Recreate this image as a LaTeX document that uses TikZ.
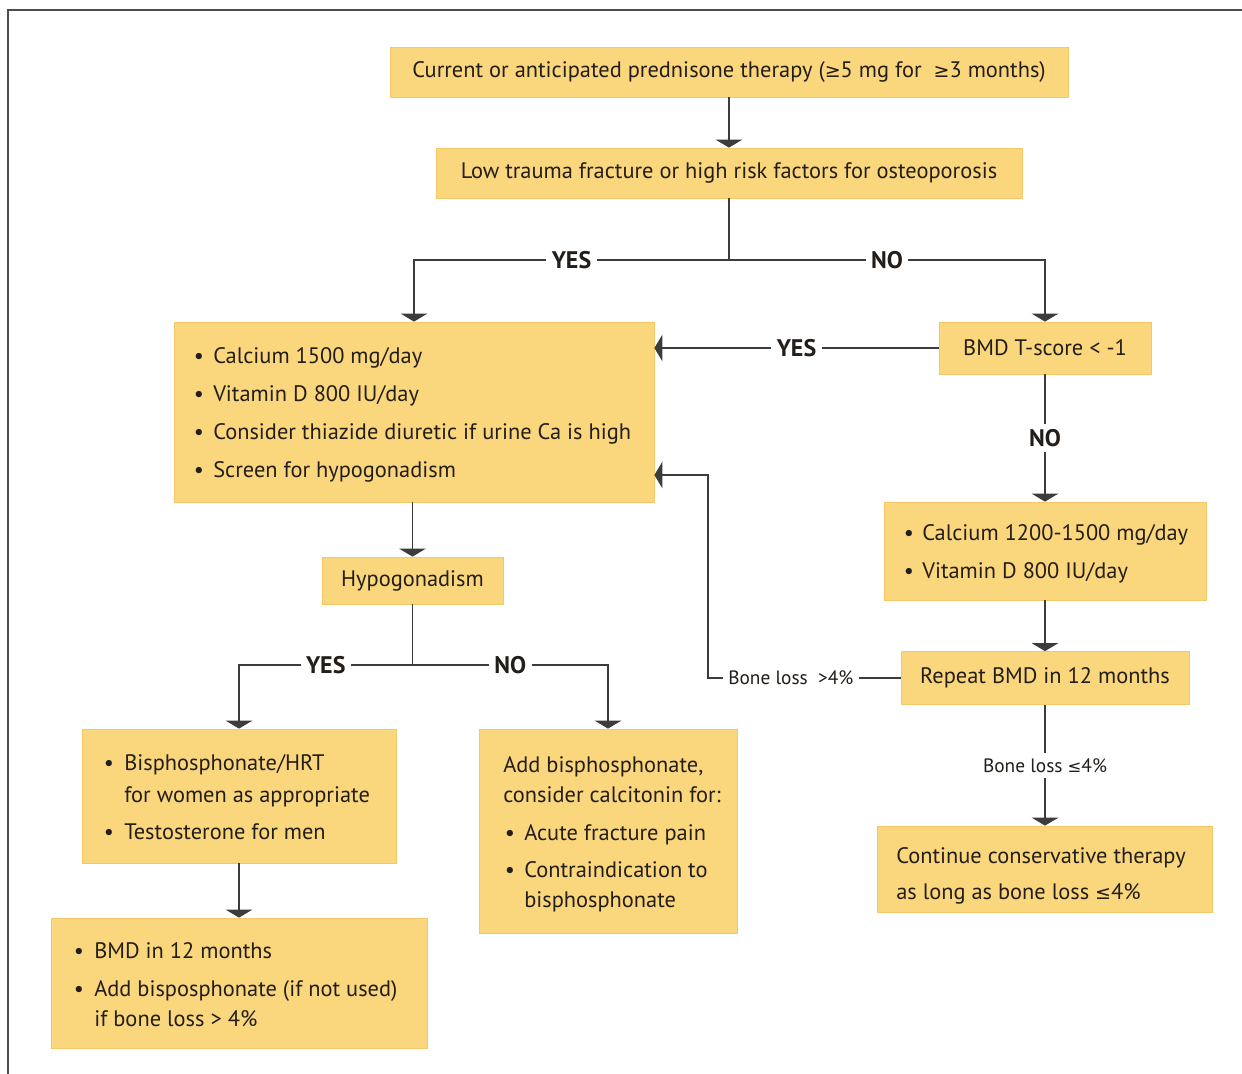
\documentclass[tikz,border=0pt]{standalone}
\usepackage{fontspec}
\setmainfont{PT Sans}
\newfontfamily\symf[Scale=0.85]{DejaVu Sans}
\newcommand{\mygeq}{{\symf ≥}}
\newcommand{\myleq}{{\symf ≤}}
\usetikzlibrary{arrows.meta}
\definecolor{boxfill}{RGB}{250,214,124}
\definecolor{boxedge}{RGB}{244,200,105}
\definecolor{linec}{RGB}{60,60,60}
\definecolor{textc}{RGB}{35,30,25}
\tikzset{
  box/.style={fill=boxfill, draw=boxedge, line width=0.6pt, inner sep=0pt, text=textc, font=\fontsize{16.8}{20}\selectfont},
  txt/.style={anchor=base west, yshift=-6pt, inner sep=0pt, text=textc, font=\fontsize{16.8}{20}\selectfont},
  bul/.style={anchor=base, yshift=-6pt, inner sep=0pt, text=textc, font=\fontsize{16.8}{20}\selectfont},
  conn/.style={draw=linec, line width=0.8pt},
  arr/.style={conn, -{Triangle[width=20pt,length=6pt]}},
  yn/.style={fill=white, inner sep=4pt, font=\bfseries\fontsize{18}{21}\selectfont, text=textc},
  lbl/.style={fill=white, inner sep=4pt, font=\fontsize{14.5}{17}\selectfont, text=textc}
}
\begin{document}
\begin{tikzpicture}[x=0.75pt,y=-0.75pt]
\useasboundingbox (0,0) rectangle (1242,1074);
% frame
\coordinate (fr1) at (1242,10);
\coordinate (fr2) at (8,10);
\coordinate (fr3) at (8,1074);
\draw[draw=black!70, line width=1.2pt] (fr1) -- (fr2) -- (fr3);

% boxes
\node[box, minimum width=678*0.75pt, minimum height=50*0.75pt] (b1) at (729,72) {Current or anticipated prednisone therapy (\mygeq5 mg for \ \mygeq3 months)};
\node[box, minimum width=586*0.75pt, minimum height=50*0.75pt] (b2) at (729,173) {Low trauma fracture or high risk factors for osteoporosis};
\node[box, minimum width=480*0.75pt, minimum height=180*0.75pt] (b3) at (414,412) {};
\node[box, minimum width=212*0.75pt, minimum height=52*0.75pt] (b4) at (1045,348) {BMD T-score < -1};
\node[box, minimum width=322*0.75pt, minimum height=98*0.75pt] (b5) at (1045,551) {};
\node[box, minimum width=288*0.75pt, minimum height=53*0.75pt] (b6) at (1045,678) {Repeat BMD in 12 months};
\node[box, minimum width=335*0.75pt, minimum height=86*0.75pt] (b7) at (1045,869) {};
\node[box, minimum width=181*0.75pt, minimum height=47*0.75pt] (b8) at (412.5,580.5) {Hypogonadism};
\node[box, minimum width=314*0.75pt, minimum height=134*0.75pt] (b9) at (239,796) {};
\node[box, minimum width=258*0.75pt, minimum height=204*0.75pt] (b10) at (608,831) {};
\node[box, minimum width=376*0.75pt, minimum height=130*0.75pt] (b11) at (239,983) {};

% box 3 text
\node[bul] (p3a) at (199,355) {•}; \node[txt] (t3a) at (213,355) {Calcium 1500 mg/day};
\node[bul] (p3b) at (199,393) {•}; \node[txt] (t3b) at (213,393) {Vitamin D 800 IU/day};
\node[bul] (p3c) at (199,431) {•}; \node[txt] (t3c) at (213,431) {Consider thiazide diuretic if urine Ca is high};
\node[bul] (p3d) at (199,469) {•}; \node[txt] (t3d) at (213,469) {Screen for hypogonadism};
% box 5 text
\node[bul] (p5a) at (909,532) {•}; \node[txt] (t5a) at (922,532) {Calcium 1200-1500 mg/day};
\node[bul] (p5b) at (909,570) {•}; \node[txt] (t5b) at (922,570) {Vitamin D 800 IU/day};
% box 7 text
\node[txt] (t7a) at (896,855) {Continue conservative therapy};
\node[txt] (t7b) at (896,891) {as long as bone loss \myleq4\%};
% box 9 text
\node[bul] (p9a) at (109,762) {•}; \node[txt] (t9a) at (124,762) {Bisphosphonate/HRT};
\node[txt] (t9b) at (124,794) {for women as appropriate};
\node[bul] (p9c) at (109,831) {•}; \node[txt] (t9c) at (124,831) {Testosterone for men};
% box 10 text
\node[txt] (t10a) at (503,764) {Add bisphosphonate,};
\node[txt] (t10b) at (503,794) {consider calcitonin for:};
\node[bul] (p10c) at (510,832) {•}; \node[txt] (t10c) at (524,832) {Acute fracture pain};
\node[bul] (p10d) at (510,869) {•}; \node[txt] (t10d) at (524,869) {Contraindication to};
\node[txt] (t10e) at (524,899) {bisphosphonate};
% box 11 text
\node[bul] (p11a) at (79,950) {•}; \node[txt] (t11a) at (94,950) {BMD in 12 months};
\node[bul] (p11b) at (79,988) {•}; \node[txt] (t11b) at (94,988) {Add bisposphonate (if not used)};
\node[txt] (t11c) at (94,1018) {if bone loss > 4\%};

% connectors
\draw[arr] (b1.south) -- (b2.north);
\coordinate (j1) at (729,260);
\draw[arr] (b2.south) -- (j1) -| node[yn, pos=0.25] {YES} (b3.north);
\draw[arr] (j1) -| node[yn, pos=0.25] {NO} (b4.north);
\draw[arr] (b4.west) -- node[yn, pos=0.5] {YES} (b3.east |- b4.west);
\draw[arr] (b4.south) -- node[yn, pos=0.5] {NO} (b5.north);
\draw[arr] (b5.south) -- (b6.north);
\coordinate (k1) at (708,678);
\coordinate (k2) at (708,475);
\draw[arr] (b6.west) -- node[lbl, pos=0.57] {Bone loss \ >4\%} (k1) -- (k2) -- (b3.east |- k2);
\draw[arr] (b6.south) -- node[lbl, pos=0.5] {Bone loss \myleq4\%} (b7.north);
\draw[arr] (b8.north |- b3.south) -- (b8.north);
\coordinate (j2) at (412.5,665);
\draw[arr] (b8.south) -- (j2) -| node[yn, pos=0.25] {YES} (b9.north);
\draw[arr] (j2) -| node[yn, pos=0.25] {NO} (b10.north);
\draw[arr] (b9.south) -- (b11.north);
\end{tikzpicture}
\end{document}
